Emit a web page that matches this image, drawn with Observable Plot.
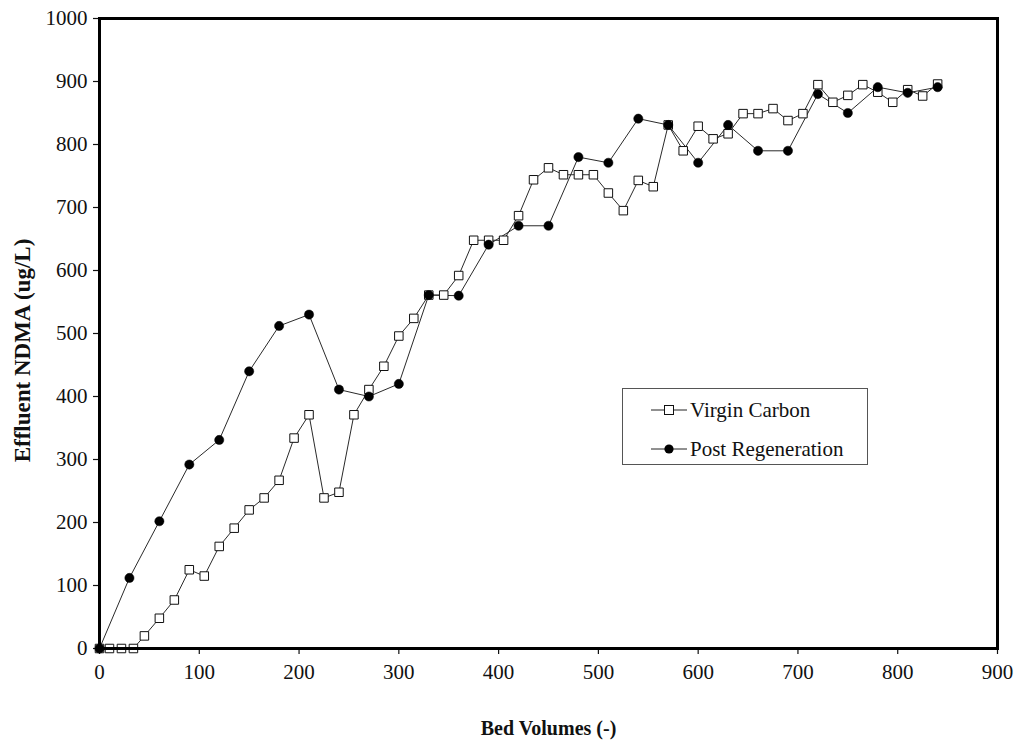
<!DOCTYPE html>
<html>
<head>
<meta charset="utf-8">
<script src="https://cdn.jsdelivr.net/npm/d3@7"></script>
<script src="https://cdn.jsdelivr.net/npm/@observablehq/plot@0.6"></script>
<style>
  html, body { margin: 0; padding: 0; background: #fff; }
  #wrap { position: relative; width: 1017px; height: 740px; font-family: "Liberation Serif", "Times New Roman", serif; }
  #legend { position: absolute; left: 622px; top: 388px; width: 246px; height: 77px; box-sizing: border-box;
            border: 1px solid #555; background: #fff; font-size: 21px; color: #111; }
  .row { position: absolute; left: 0; display: flex; align-items: center; height: 30px; }
  .row svg { display: block; margin-left: 28px; margin-right: 3px; }
</style>
</head>
<body>
<div id="wrap"></div>
<script>
// ---- data ----
const virginX = [0, 10, 22, 34, 45, 60, 75, 90, 105, 120, 135, 150, 165, 180, 195, 210, 225, 240, 255, 270, 285, 300, 315, 330, 345, 360, 375, 390, 405, 420, 435, 450, 465, 480, 495, 510, 525, 540, 555, 570, 585, 600, 615, 630, 645, 660, 675, 690, 705, 720, 735, 750, 765, 780, 795, 810, 825, 840];
const virginY = [0, 0, 0, 0, 20, 48, 77, 125, 115, 162, 191, 220, 239, 267, 334, 371, 239, 248, 371, 411, 448, 496, 524, 561, 561, 592, 648, 648, 648, 687, 744, 763, 752, 752, 752, 723, 695, 743, 733, 831, 790, 829, 809, 817, 849, 849, 857, 838, 849, 895, 867, 878, 895, 883, 867, 887, 877, 896];
const postX = [0, 30, 60, 90, 120, 150, 180, 210, 240, 270, 300, 330, 360, 390, 420, 450, 480, 510, 540, 570, 600, 630, 660, 690, 720, 750, 780, 810, 840];
const postY = [0, 112, 202, 292, 331, 440, 512, 530, 411, 400, 420, 561, 560, 641, 671, 671, 780, 771, 841, 831, 771, 831, 790, 790, 880, 850, 891, 882, 891];
const xTicks = [0, 100, 200, 300, 400, 500, 600, 700, 800, 900];
const yTicks = [0, 100, 200, 300, 400, 500, 600, 700, 800, 900, 1000];
const seriesNames = ["Virgin Carbon", "Post Regeneration"];
const xTitle = "Bed Volumes (-)";
const yTitle = "Effluent NDMA (ug/L)";

const virgin = virginX.map((x, i) => ({x, y: virginY[i]}));
const post = postX.map((x, i) => ({x, y: postY[i]}));

const font = '"Liberation Serif", "Times New Roman", serif';

const chart = Plot.plot({
  width: 1017,
  height: 740,
  marginLeft: 99,
  marginRight: 20,
  marginTop: 18,
  marginBottom: 92,
  style: { fontFamily: font, fontSize: "21px", color: "#111", background: "#fff", overflow: "visible" },
  x: { domain: [0, 900] },
  y: { domain: [0, 1000] },
  marks: [
    Plot.axisX({ ticks: xTicks, tickSize: 6, tickPadding: 10, tickFormat: d => String(d), label: null, strokeWidth: 1.2 }),
    Plot.axisY({ ticks: yTicks, tickSize: 6, tickPadding: 6, tickFormat: d => String(d), label: null, strokeWidth: 1.2 }),
    Plot.line(virgin, { x: "x", y: "y", stroke: "#2a2a2a", strokeWidth: 1 }),
    Plot.line(post, { x: "x", y: "y", stroke: "#2a2a2a", strokeWidth: 1 }),
    Plot.dot(virgin, { x: "x", y: "y", symbol: "square", r: 4.8, fill: "white", stroke: "#111", strokeWidth: 1 }),
    Plot.dot(post, { x: "x", y: "y", r: 4.6, fill: "#000", stroke: "#000", strokeWidth: 0.5 }),
    Plot.frame({ stroke: "#000", strokeWidth: 3 }),
    Plot.text([xTitle], { frameAnchor: "bottom", dy: 86, fontWeight: "bold", fontSize: 20, fill: "#111" }),
    Plot.text([yTitle], { frameAnchor: "left", textAnchor: "middle", rotate: -90, dx: -77, dy: 17, fontWeight: "bold", fontSize: 23, fill: "#111" })
  ]
});

const wrap = document.getElementById("wrap");
wrap.appendChild(chart);

// legend (HTML overlay)
const legend = document.createElement("div");
legend.id = "legend";
const rowTops = [6, 45];
seriesNames.forEach((name, i) => {
  const row = document.createElement("div");
  row.className = "row";
  row.style.top = rowTops[i] + "px";
  const sym = i === 0
    ? '<svg width="36" height="14"><line x1="0" y1="7" x2="36" y2="7" stroke="#222" stroke-width="1"/><rect x="13.5" y="2.5" width="9" height="9" fill="white" stroke="#111" stroke-width="1"/></svg>'
    : '<svg width="36" height="14"><line x1="0" y1="7" x2="36" y2="7" stroke="#222" stroke-width="1"/><circle cx="18" cy="7" r="4.6" fill="#000"/></svg>';
  row.innerHTML = sym + '<span>' + name + '</span>';
  legend.appendChild(row);
});
wrap.appendChild(legend);
</script>
</body>
</html>
